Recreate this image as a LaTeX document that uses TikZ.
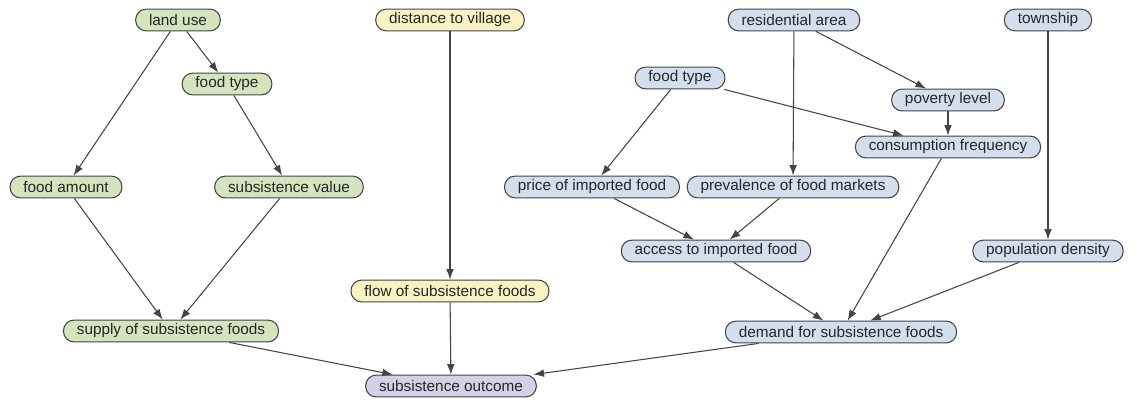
\documentclass[tikz,border=0pt]{standalone}
\usepackage{fontspec}
\setmainfont{Liberation Sans}
\usetikzlibrary{arrows.meta}
\definecolor{grn}{HTML}{D3E4BE}
\definecolor{ylw}{HTML}{FAF2C2}
\definecolor{blu}{HTML}{D3DFEE}
\definecolor{prp}{HTML}{D6D0E6}
\definecolor{edg}{HTML}{444444}
\begin{document}
\begin{tikzpicture}[x=0.025cm,y=-0.025cm,
    var/.style={draw=edg,line width=0.75pt,rounded corners=7.5pt,minimum height=15.5pt,
        inner xsep=9.5pt,inner ysep=0pt,text=black!85,font=\fontsize{10.9}{12}\selectfont},
    link/.style={draw=edg,line width=0.75pt,-{Latex[length=7.5pt,width=5.5pt]}}]
                \useasboundingbox (0,0) rectangle (1147,403);
                \node[var,fill=grn] (land) at (178,20) {land use};
                \node[var,fill=grn] (gtype) at (227,84) {food type};
                \node[var,fill=grn] (amount) at (66,187) {food amount};
                \node[var,fill=grn] (value) at (289,187) {subsistence value};
                \node[var,fill=grn] (supply) at (171,331) {supply of subsistence foods};
                \node[var,fill=ylw] (dist) at (450,20) {distance to village};
                \node[var,fill=ylw] (flow) at (450,291) {flow of subsistence foods};
                \node[var,fill=prp] (outcome) at (451,386) {subsistence outcome};
                \node[var,fill=blu] (resid) at (794,20) {residential area};
                \node[var,fill=blu] (town) at (1048,20) {township};
                \node[var,fill=blu] (btype) at (680,78) {food type};
                \node[var,fill=blu] (poverty) at (948,100) {poverty level};
                \node[var,fill=blu] (freq) at (948,147) {consumption frequency};
                \node[var,fill=blu] (price) at (592,187) {price of imported food};
                \node[var,fill=blu] (markets) at (793,187) {prevalence of food markets};
                \node[var,fill=blu] (access) at (716,251) {access to imported food};
                \node[var,fill=blu] (density) at (1048,251) {population density};
                \node[var,fill=blu] (demand) at (841,332) {demand for subsistence foods};
                \draw[link] (land) -- (amount);
                \draw[link] (land) -- (gtype);
                \draw[link] (gtype) -- (value);
                \draw[link] (amount) -- (supply);
                \draw[link] (value) -- (supply);
                \draw[link] (supply) -- (outcome);
                \draw[link] (dist) -- (flow);
                \draw[link] (flow) -- (outcome);
                \draw[link] (resid) -- (markets);
                \draw[link] (resid) -- (poverty);
                \draw[link] (btype) -- (price);
                \draw[link] (btype) -- (freq);
                \draw[link] (poverty) -- (freq);
                \draw[link] (town) -- (density);
                \draw[link] (price) -- (access);
                \draw[link] (markets) -- (access);
                \draw[link] (freq) -- (demand);
                \draw[link] (access) -- (demand);
                \draw[link] (density) -- (demand);
                \draw[link] (demand) -- (outcome);
            \end{tikzpicture}
\end{document}
